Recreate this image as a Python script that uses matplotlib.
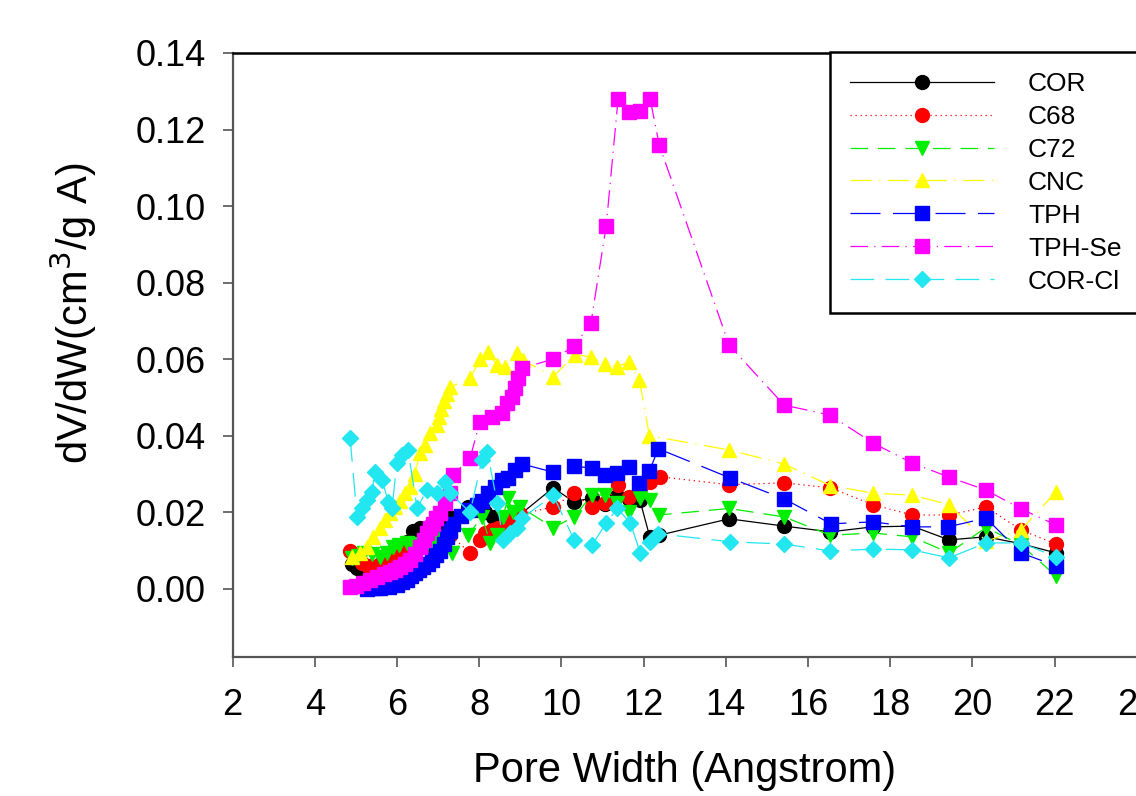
import numpy as np
import matplotlib
matplotlib.use("Agg")
import matplotlib.pyplot as plt
from matplotlib.ticker import MultipleLocator, FormatStrFormatter

plt.rcParams['font.family'] = ['Liberation Sans', 'DejaVu Sans']

# ================================================
# DATA
# ================================================
cor_x = [4.90, 5.03, 5.18, 5.35, 5.50, 5.65, 5.80, 5.95, 6.10, 6.25, 6.40, 6.55, 6.75, 6.95,
         7.15, 7.30, 7.73, 7.95, 8.14, 8.34, 8.55, 8.75, 8.95, 9.80, 10.31, 10.74, 11.07,
         11.36, 11.65, 11.91, 12.15, 12.37, 14.08, 15.42, 16.54, 17.58, 18.53, 19.43, 20.33,
         21.18, 22.03]
cor_y = [0.0065, 0.0055, 0.0042, 0.0048, 0.0055, 0.0062, 0.0075, 0.0090, 0.0105, 0.0123,
         0.0150, 0.0160, 0.0162, 0.0168, 0.0175, 0.0188, 0.0214, 0.0205, 0.0200, 0.0188,
         0.0175, 0.0170, 0.0190, 0.0264, 0.0227, 0.0238, 0.0222, 0.0243, 0.0235, 0.0232,
         0.0136, 0.0140, 0.0183, 0.0164, 0.0149, 0.0162, 0.0164, 0.0128, 0.0136, 0.0118,
         0.0094]

c68_x = [4.85, 5.00, 5.15, 5.30, 5.45, 5.60, 5.75, 5.90, 6.05, 6.20, 6.35, 6.50, 6.70, 6.90,
         7.10, 7.30, 7.78, 8.02, 8.14, 8.31, 8.46, 8.63, 8.80, 9.00, 9.80, 10.31, 10.74,
         11.07, 11.38, 11.65, 11.91, 12.15, 12.40, 14.08, 15.42, 16.54, 17.58, 18.53, 19.43,
         20.33, 21.18, 22.03]
c68_y = [0.0100, 0.0085, 0.0068, 0.0060, 0.0058, 0.0065, 0.0075, 0.0085, 0.0095, 0.0100,
         0.0105, 0.0110, 0.0115, 0.0120, 0.0130, 0.0140, 0.0094, 0.0128, 0.0146, 0.0154,
         0.0160, 0.0170, 0.0185, 0.0195, 0.0214, 0.0250, 0.0214, 0.0224, 0.0272, 0.0240,
         0.0260, 0.0280, 0.0293, 0.0272, 0.0277, 0.0264, 0.0220, 0.0193, 0.0193, 0.0214,
         0.0154, 0.0117]

c72_x = [4.90, 5.05, 5.20, 5.40, 5.60, 5.75, 5.90, 6.05, 6.24, 6.40, 6.56, 6.72, 6.88, 7.02,
         7.17, 7.35, 7.73, 8.07, 8.27, 8.44, 8.58, 8.70, 8.83, 9.00, 9.80, 10.31, 10.74,
         11.07, 11.36, 11.65, 11.91, 12.15, 12.37, 14.08, 15.42, 16.54, 17.58, 18.53, 19.43,
         20.33, 21.18, 22.03]
c72_y = [0.0080, 0.0085, 0.0094, 0.0090, 0.0084, 0.0095, 0.0110, 0.0115, 0.0120, 0.0118,
         0.0115, 0.0120, 0.0120, 0.0128, 0.0136, 0.0095, 0.0140, 0.0188, 0.0120, 0.0140,
         0.0188, 0.0238, 0.0200, 0.0214, 0.0160, 0.0188, 0.0245, 0.0245, 0.0225, 0.0200,
         0.0238, 0.0232, 0.0193, 0.0210, 0.0188, 0.0140, 0.0146, 0.0136, 0.0094, 0.0160,
         0.0115, 0.0034]

cnc_x = [4.91, 5.10, 5.27, 5.42, 5.59, 5.71, 5.83, 5.95, 6.08, 6.20, 6.32, 6.44, 6.56, 6.68,
         6.80, 6.98, 7.02, 7.08, 7.14, 7.22, 7.29, 7.78, 8.02, 8.22, 8.43, 8.63, 8.92, 9.07,
         9.80, 10.33, 10.72, 11.06, 11.35, 11.65, 11.90, 12.14, 14.08, 15.42, 16.54, 17.58,
         18.53, 19.43, 20.33, 21.18, 22.03]
cnc_y = [0.0084, 0.0094, 0.0110, 0.0136, 0.0160, 0.0180, 0.0198, 0.0214, 0.0230, 0.0250,
         0.0267, 0.0300, 0.0355, 0.0376, 0.0407, 0.0428, 0.0450, 0.0470, 0.0490, 0.0510,
         0.0527, 0.0550, 0.0600, 0.0619, 0.0585, 0.0580, 0.0616, 0.0598, 0.0554, 0.0612,
         0.0606, 0.0587, 0.0580, 0.0593, 0.0546, 0.0400, 0.0363, 0.0326, 0.0270, 0.0250,
         0.0245, 0.0220, 0.0125, 0.0154, 0.0253]

tph_x = [5.27, 5.45, 5.59, 5.80, 6.00, 6.12, 6.24, 6.34, 6.44, 6.54, 6.64, 6.75, 6.85, 6.95,
         7.05, 7.14, 7.22, 7.30, 7.37, 7.55, 7.75, 7.95, 8.07, 8.22, 8.39, 8.56, 8.70, 8.87,
         9.05, 9.80, 10.31, 10.75, 11.06, 11.35, 11.65, 11.89, 12.14, 12.36, 14.10, 15.42,
         16.56, 17.58, 18.53, 19.41, 20.33, 21.18, 22.03]
tph_y = [0.0000, 0.0002, 0.0003, 0.0006, 0.0010, 0.0017, 0.0024, 0.0033, 0.0042, 0.0050,
         0.0057, 0.0066, 0.0076, 0.0088, 0.0100, 0.0118, 0.0136, 0.0150, 0.0170, 0.0190,
         0.0205, 0.0220, 0.0230, 0.0250, 0.0266, 0.0285, 0.0290, 0.0310, 0.0326, 0.0305,
         0.0320, 0.0316, 0.0298, 0.0303, 0.0319, 0.0277, 0.0308, 0.0366, 0.0290, 0.0235,
         0.0170, 0.0175, 0.0162, 0.0162, 0.0185, 0.0094, 0.0060]

tphse_x = [4.86, 5.00, 5.18, 5.35, 5.52, 5.68, 5.83, 5.96, 6.08, 6.20, 6.32, 6.44, 6.56, 6.65,
           6.73, 6.80, 6.88, 6.96, 7.05, 7.17, 7.29, 7.37, 7.78, 8.02, 8.31, 8.56, 8.68, 8.80,
           8.87, 8.95, 9.05, 9.80, 10.31, 10.72, 11.09, 11.38, 11.65, 11.92, 12.16, 12.38,
           14.08, 15.42, 16.54, 17.58, 18.53, 19.43, 20.33, 21.18, 22.03]
tphse_y = [0.0005, 0.0008, 0.0016, 0.0023, 0.0031, 0.0038, 0.0044, 0.0050, 0.0057, 0.0066,
           0.0076, 0.0090, 0.0110, 0.0128, 0.0146, 0.0158, 0.0170, 0.0184, 0.0198, 0.0225,
           0.0250, 0.0298, 0.0342, 0.0437, 0.0450, 0.0460, 0.0486, 0.0500, 0.0525, 0.0550,
           0.0577, 0.0600, 0.0634, 0.0695, 0.0948, 0.1280, 0.1245, 0.1248, 0.1280, 0.1160,
           0.0637, 0.0480, 0.0454, 0.0381, 0.0329, 0.0292, 0.0258, 0.0209, 0.0167]

corcl_x = [4.86, 5.03, 5.15, 5.27, 5.39, 5.47, 5.64, 5.79, 5.88, 6.00, 6.12, 6.27, 6.49, 6.73,
           6.98, 7.17, 7.29, 7.78, 8.07, 8.20, 8.44, 8.58, 8.75, 8.92, 9.05, 9.80, 10.31,
           10.75, 11.09, 11.36, 11.68, 11.92, 12.16, 12.36, 14.10, 15.42, 16.54, 17.58, 18.53,
           19.43, 20.33, 21.18, 22.03]
corcl_y = [0.0394, 0.0188, 0.0211, 0.0232, 0.0253, 0.0305, 0.0285, 0.0227, 0.0211, 0.0329,
           0.0350, 0.0363, 0.0211, 0.0258, 0.0250, 0.0280, 0.0250, 0.0200, 0.0337, 0.0358,
           0.0224, 0.0128, 0.0146, 0.0160, 0.0185, 0.0245, 0.0128, 0.0115, 0.0172, 0.0210,
           0.0172, 0.0094, 0.0123, 0.0144, 0.0123, 0.0117, 0.0099, 0.0104, 0.0102, 0.0081,
           0.0120, 0.0120, 0.0084]

labels = ["COR", "C68", "C72", "CNC", "TPH", "TPH-Se", "COR-Cl"]

# ================================================
# PLOT
# ================================================
fig = plt.figure(figsize=(11.36, 7.96), dpi=100)
ax = fig.add_axes([232.5 / 1136, 1 - 657 / 796, 904.4 / 1136, 604 / 796])

series = [
    (cor_x, cor_y, "black", "o", "-"),
    (c68_x, c68_y, "#ff0000", "o", (0, (1, 3))),
    (c72_x, c72_y, "#00ee00", "v", (0, (14, 8))),
    (cnc_x, cnc_y, "#ffff00", "^", (0, (17, 6, 1, 6))),
    (tph_x, tph_y, "#0000ff", "s", (0, (24, 10))),
    (tphse_x, tphse_y, "#ff00ff", "s", (0, (14, 5, 1, 5))),
    (corcl_x, corcl_y, "#22e6f0", "D", (0, (19, 9))),
]
for (x, y, c, m, ls), lab in zip(series, labels):
    ms = 10 if m != "D" else 8.5
    ax.plot(x, y, color=c, linestyle=ls, linewidth=0.9, marker=m, markersize=ms,
            markerfacecolor=c, markeredgecolor=c, label=lab)

ax.set_xlim(2, 24)
ax.set_ylim(-0.0178, 0.14)
ax.xaxis.set_major_locator(MultipleLocator(2))
ax.yaxis.set_major_locator(MultipleLocator(0.02))
ax.yaxis.set_major_formatter(FormatStrFormatter('%.2f'))

for side in ["left", "bottom"]:
    ax.spines[side].set_color("#555555")
    ax.spines[side].set_linewidth(1.6)
ax.spines["top"].set_color("black")
ax.spines["top"].set_linewidth(1.8)
ax.spines["right"].set_visible(False)

ax.tick_params(axis="both", direction="out", length=7, width=1.2, color="#555555",
               labelsize=26)
ax.tick_params(axis="x", pad=15)
ax.tick_params(axis="y", pad=12)

ax.set_xlabel("Pore Width (Angstrom)", fontsize=30)
ax.set_ylabel("dV/dW(cm$^3$/g A)", fontsize=30)
ax.xaxis.set_label_coords(0.5, -0.155)
ax.yaxis.set_label_coords(-0.148, 0.57)

leg = ax.legend(loc="upper left", bbox_to_anchor=(830 / 1136, 1 - 52 / 796),
                bbox_transform=fig.transFigure, fontsize=19, numpoints=1,
                handlelength=5.45, handletextpad=1.3, labelspacing=0.34,
                borderpad=0.75, borderaxespad=0, fancybox=False, framealpha=1)
leg.get_frame().set_edgecolor("black")
leg.get_frame().set_linewidth(1.8)

fig.savefig("out.png", dpi=100)
